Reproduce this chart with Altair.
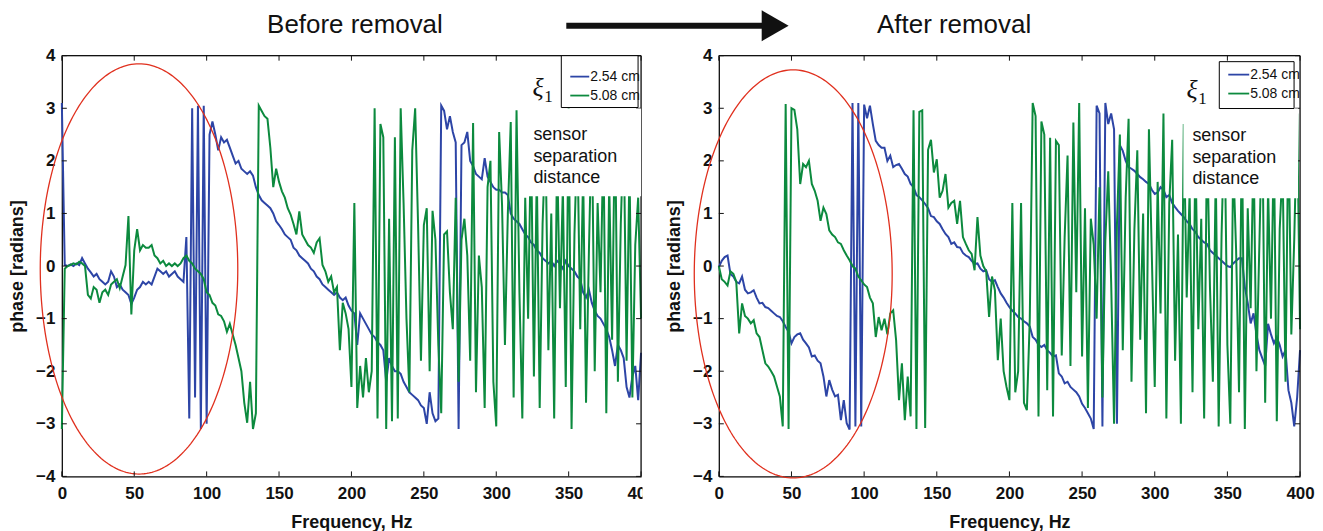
import altair as alt
import numpy as np
import pandas as pd

# ---------------- data ----------------
FREQ = list(range(0, 401, 2))  # Hz, 2 Hz sampling

BEFORE_254 = [
    3.1, 0.02, 0.0, 0.03, 0.0, 0.05, 0.02, 0.15, 0.05, -0.05,
    -0.12, -0.2, -0.15, -0.25, -0.3, -0.35, -0.3, -0.1, -0.2, -0.4,
    -0.35, -0.45, -0.5, -0.55, -0.72, -0.6, -0.45, -0.4, -0.3, -0.35,
    -0.3, -0.35, -0.2, -0.05, -0.1, -0.15, -0.1, -0.2, -0.15, -0.1,
    -0.2, -0.25, -0.3, 0.55, -2.9, 3.0, -2.5, 3.05, -3.1, 3.05,
    -3.0, 2.5, 2.75, 2.5, 2.2, 2.45, 2.35, 2.4, 2.25, 2.1,
    1.95, 2.0, 1.85, 1.8, 1.75, 1.8, 1.72, 1.5, 1.35, 1.25,
    1.2, 1.15, 1.1, 1.0, 0.85, 0.78, 0.7, 0.6, 0.55, 0.5,
    0.35, 0.3, 0.2, 0.15, 0.1, 0.05, -0.05, -0.1, -0.2, -0.25,
    -0.35, -0.4, -0.45, -0.5, -0.55, -0.5, -0.6, -0.65, -0.6, -0.75,
    -0.85, -0.9, -1.5, -0.9, -1.0, -1.1, -1.2, -1.3, -1.35, -1.45,
    -1.5, -1.6, -2.2, -1.75, -1.9, -2.0, -2.0, -2.05, -2.2, -2.3,
    -2.4, -2.45, -2.5, -2.55, -2.65, -2.7, -3.0, -2.4, -2.8, -2.95,
    -2.9, 3.05, 2.95, 2.6, 2.85, 2.55, 2.35, -3.1, 2.3, 2.35,
    2.55, 2.0, 1.9, 1.75, 1.7, 1.65, 2.05, 1.7, 1.6, 1.5,
    1.45, 1.45, 1.4, 1.4, 1.35, 1.0, 0.9, 0.85, 0.8, 0.7,
    0.6, 0.55, 0.45, 0.4, 0.3, 0.25, 0.15, 0.1, 0.05, 0.1,
    0.0, 0.1, 0.05, -0.05, 0.1, 0.0, -0.05, -0.1, -0.2, -0.25,
    -0.5, -0.6, -0.45, -0.7, -0.85, -0.95, -1.0, -1.1, -1.2, -1.35,
    -1.6, -1.9, -1.5, -1.6, -1.75, -2.3, -2.5, -2.1, -1.9, -2.55,
    -1.65,
]

BEFORE_508 = [
    -3.1, -0.05, 0.0, 0.02, 0.05, 0.03, 0.08, 0.05, 0.0, -0.55,
    -0.62, -0.4, -0.45, -0.7, -0.5, -0.45, -0.55, -0.35, -0.3, -0.25,
    -0.42, -0.2, 0.02, 0.95, -0.92, 0.3, 0.7, 0.3, 0.4, 0.35,
    0.35, 0.4, 0.2, 0.15, 0.05, 0.1, 0.0, 0.05, 0.0, 0.05,
    0.0, 0.05, 0.15, 0.2, 0.1, 0.05, -0.05, -0.1, -0.15, -0.25,
    -0.5, -0.55, -0.7, -0.75, -0.92, -0.95, -1.05, -1.25, -1.1, -1.3,
    -1.5, -1.75, -2.0, -2.6, -2.98, -2.2, -3.1, -2.8, 3.05, 2.95,
    2.85, 2.8, 2.25, 1.5, 1.85, 1.6, 1.42, 1.3, 1.1, 0.98,
    0.8, 0.6, 1.04, 0.6, 0.5, 0.4, 0.35, 0.25, 0.45, 0.53,
    0.02, -0.1, -0.3, -0.2, -0.5, -0.4, -1.6, -0.7, -0.9, -1.2,
    -2.3, 1.2, -2.7, -1.9, -2.5, -1.75, -2.4, -2.0, 3.0, -2.9,
    2.7, 2.45, -3.1, 0.9, -2.95, 2.45, -2.9, 3.0, 1.2, -1.0,
    -2.4, 2.2, 3.0, 0.8, -1.8, 0.78, 1.1, -2.0, 1.05, 0.5,
    -1.5, -2.8, 0.6, 0.66, -0.5, -1.2, 1.3, -2.2, 0.5, 0.9,
    0.2, -1.8, 2.72, -2.4, 0.2, -0.4, -2.7, 1.5, 2.0, -2.2,
    -3.05, 2.55, 1.16, -1.5, 1.0, 2.74, -2.5, 2.96, -0.5, -2.9,
    1.3, -1.0, 2.5, -2.1, 1.8, -2.7, 0.8, 2.4, -1.6, 1.0,
    -2.9, 2.2, -0.8, 1.5, -2.3, 3.0, -3.1, 0.6, 2.5, -1.2,
    1.8, -2.6, 0.3, 2.8, -2.0, 1.2, -0.5, 2.4, -2.8, 1.6,
    -1.4, 2.9, -2.2, 0.8, 2.6, -1.8, 1.9, -2.5, 0.4, 1.3,
    -1.0,
]

AFTER_254 = [
    -0.02, 0.1, 0.17, 0.2, -0.15, -0.2, -0.3, -0.33, -0.2, -0.45,
    -0.52, -0.5, -0.46, -0.6, -0.71, -0.7, -0.78, -0.8, -0.85, -0.9,
    -0.95, -0.97, -1.05, -1.16, -1.25, -1.47, -1.35, -1.3, -1.28, -1.4,
    -1.47, -1.55, -1.72, -1.7, -1.8, -1.85, -2.1, -2.48, -2.17, -2.35,
    -2.48, -2.45, -2.93, -2.55, -2.99, -3.11, 3.1, -3.05, 3.1, -3.05,
    3.07, 2.81, 3.05, 2.7, 2.38, 2.3, 2.25, 2.25, 2.0, 2.1,
    1.88, 1.92, 1.94, 1.85, 1.75, 1.7, 1.56, 1.5, 1.35, 1.31,
    1.25, 1.18, 1.1, 0.95, 0.93, 0.85, 0.8, 0.7, 0.61, 0.55,
    0.42, 0.45, 0.36, 0.35, 0.25, 0.2, 0.17, 0.1, 0.04, 0.05,
    -0.05, -0.1, -0.08, -0.25, -0.3, -0.27, -0.4, -0.52, -0.6, -0.7,
    -0.78, -0.85, -0.9, -0.97, -1.0, -1.05, -1.09, -1.15, -1.35, -1.4,
    -1.5, -1.54, -1.5, -1.6, -1.65, -1.72, -1.7, -2.04, -2.1, -2.23,
    -2.2, -2.3, -2.35, -2.4, -2.48, -2.62, -2.7, -2.8, -2.9, -3.1,
    3.05, 2.9, -3.05, 3.1, 2.7, 2.9, 2.6, -3.0, 2.3, 2.19,
    2.0, 1.88, 1.85, 1.81, 1.75, 1.69, 1.65, 1.6, 1.56, 1.45,
    1.37, 1.4, 1.5, 1.45, 1.31, 1.35, 1.2, 1.12, 1.05, 0.99,
    0.93, 0.85, 0.8, 0.7, 0.65, 0.55, 0.5, 0.45, 0.42, 0.3,
    0.25, 0.2, 0.15, 0.1, 0.05, 0.0, -0.02, 0.05, 0.1, 0.15,
    0.15, -0.4, -0.7, -1.09, -0.9, -1.3, -1.6, -1.75, -1.9, -1.1,
    -1.3, -1.47, -1.35, -1.5, -1.72, -1.6, -2.36, -2.6, -3.05, -2.5,
    -1.6,
]

AFTER_508 = [
    0.0, -0.25, -0.3, -0.37, -0.1, -0.15, -0.3, -1.28, -0.71, -0.95,
    -1.0, -1.09, -1.03, -1.28, -1.35, -1.6, -1.85, -1.91, -2.0, -2.1,
    -2.29, -2.48, -3.05, 3.08, -3.1, 3.0, 2.97, 2.6, 1.56, 1.94,
    1.88, 2.0, 1.56, 1.43, 1.24, 0.86, 1.11, 0.99, 0.68, 0.6,
    0.55, 0.45, 0.42, 0.3, 0.2, 0.11, 0.0, -0.05, -0.2, -0.27,
    -0.35, -0.4, -0.6, -0.71, -1.35, -0.97, -1.22, -1.0, -1.3, -0.9,
    -0.84, -1.41, -2.55, -1.85, -2.93, -2.1, -2.86, 2.96, -3.1, 2.93,
    2.96, -3.08, 2.21, 2.4, 1.78, 2.03, 1.3, 1.43, 1.75, 1.11,
    1.2, 1.24, 0.8, 1.24, 0.55, 0.42, 0.3, 0.23, -0.08, 0.93,
    0.2, 0.0, -0.1, -0.97, -0.2, -0.46, -1.79, -1.0, -2.0, -2.3,
    -2.55, 1.2, -2.4, -2.0, 1.2, -2.6, -2.74, -1.0, 3.1, 2.85,
    -2.86, 2.75, 2.5, -2.36, 2.44, -2.86, 2.38, 2.3, -1.7, 0.55,
    2.1, -1.9, 2.73, -0.5, 3.1, -1.72, 1.1, -2.7, 0.9, 0.4,
    -1.0, 1.5, -2.5, 0.5, 1.8, -0.3, -3.0, 0.8, 2.5, -1.6,
    1.3, 2.8, -2.2, 0.7, 2.2, -1.4, 1.0, -2.8, 2.6, 0.2,
    -2.3, 1.6, -0.9, 2.9, -2.9, 1.2, 2.4, -1.8, 0.6, -3.0,
    2.7, -0.6, 1.4, -2.4, 2.2, -1.2, 0.9, -2.9, 2.5, -0.4,
    -2.2, 1.8, -3.05, 0.6, 2.8, -1.5, -3.0, 2.0, 0.3, -2.4,
    2.6, -3.1, 1.1, -0.8, 2.3, -2.0, 0.4, 2.9, -2.6, 1.5,
    -1.0, 2.4, -2.95, 0.7, 1.9, -2.2, 2.8, -1.3, 0.5, 2.9,
    -1.2,
]

X_TICKS = [0, 50, 100, 150, 200, 250, 300, 350, 400]
Y_TICKS = [-4, -3, -2, -1, 0, 1, 2, 3, 4]
SERIES = ["2.54 cm", "5.08 cm"]
PANEL_TITLES = ["Before removal", "After removal"]
NOTE_LINES = ["sensor", "separation", "distance"]
X_TITLE = "Frequency, Hz"
Y_TITLE = "phase [radians]"

# ---------------- styling ----------------
COLORS = ["#2d45a6", "#0c8a3e"]
RED = "#e0301e"
INK = "#111111"
FONT = "Liberation Sans"
SERIF = "Liberation Serif"
H = 422

ONE = pd.DataFrame({"k": [0]})
XS = alt.Scale(domain=[0, 400], nice=False, zero=False)
YS = alt.Scale(domain=[-4, 4], nice=False, zero=False)


def txt(text, x, y, size, font=FONT, align="left", color=INK):
    return alt.Chart(ONE).mark_text(
        text=text, font=font, fontSize=size, align=align, baseline="middle", color=color,
    ).encode(x=alt.value(x), y=alt.value(y))


def panel(blue, green, W, title, title_x, ell, box, leg, note, xi, left):
    df = pd.DataFrame({"f": FREQ, "b": blue, "g": green})

    xaxis = alt.Axis(
        values=X_TICKS, ticks=False, grid=False, title=X_TITLE,
        labelFont=FONT, labelFontSize=17, labelFontWeight="bold", labelColor=INK,
        labelPadding=9, labelFlush=False, labelOverlap=False,
        titleFont=FONT, titleFontSize=18, titleFontWeight="bold", titleColor=INK,
        titlePadding=12, domainColor=INK, domainWidth=1.3,
    )
    yaxis = alt.Axis(
        values=Y_TICKS, ticks=False, grid=False, title=Y_TITLE,
        labelFont=FONT, labelFontSize=17, labelFontWeight="bold", labelColor=INK,
        labelPadding=7, labelFlush=False, labelOverlap=False,
        titleFont=FONT, titleFontSize=18, titleFontWeight="bold", titleColor=INK,
        titlePadding=9, domainColor=INK, domainWidth=1.3,
    )

    def X(field):
        return alt.X(field, scale=XS, axis=xaxis)

    def Y(field):
        return alt.Y(field, scale=YS, axis=yaxis)

    layers = []
    layers.append(alt.Chart(df).mark_line(color=COLORS[0], strokeWidth=2).encode(
        x=X("f:Q"), y=Y("b:Q")))
    layers.append(alt.Chart(df).mark_line(color=COLORS[1], strokeWidth=2).encode(
        x=X("f:Q"), y=Y("g:Q")))

    # red ellipse annotation
    cx, rx, cy, ry = ell
    t = np.linspace(0, 2 * np.pi, 241)
    edf = pd.DataFrame({"t": t, "ex": cx + rx * np.cos(t), "ey": cy + ry * np.sin(t)})
    layers.append(alt.Chart(edf).mark_line(color=RED, strokeWidth=1.3).encode(
        x=X("ex:Q"), y=Y("ey:Q"), order="t:Q"))

    # inward tick marks and box frame
    xt = pd.DataFrame({"t": X_TICKS})
    yt = pd.DataFrame({"t": Y_TICKS})
    layers.append(alt.Chart(xt).mark_rule(color=INK, strokeWidth=1).encode(
        x=X("t:Q"), y=alt.value(H), y2=alt.value(H - 5)))
    layers.append(alt.Chart(xt).mark_rule(color=INK, strokeWidth=1).encode(
        x=X("t:Q"), y=alt.value(0), y2=alt.value(5)))
    layers.append(alt.Chart(yt).mark_rule(color=INK, strokeWidth=1).encode(
        y=Y("t:Q"), x=alt.value(0), x2=alt.value(5)))
    layers.append(alt.Chart(yt).mark_rule(color=INK, strokeWidth=1).encode(
        y=Y("t:Q"), x=alt.value(W - 5), x2=alt.value(W)))
    layers.append(alt.Chart(ONE).mark_rule(color=INK, strokeWidth=1.3).encode(
        x=alt.value(0), x2=alt.value(W), y=alt.value(0)))
    layers.append(alt.Chart(ONE).mark_rule(color=INK, strokeWidth=1.3).encode(
        x=alt.value(W), y=alt.value(0), y2=alt.value(H)))

    # white box behind the note
    nx0, nx1, ny0, ny1, nd = note
    layers.append(alt.Chart(ONE).mark_rect(color="white").encode(
        x=alt.value(nx0), x2=alt.value(nx1), y=alt.value(ny0), y2=alt.value(ny1)))
    for i, line in enumerate(NOTE_LINES):
        layers.append(txt(line, nx0 + 9, ny0 + nd + 21.5 * i, 18))

    # legend
    bx0, bx1, by0, by1 = box
    layers.append(alt.Chart(ONE).mark_rect(color="white", stroke="black", strokeWidth=1).encode(
        x=alt.value(bx0), x2=alt.value(bx1), y=alt.value(by0), y2=alt.value(by1)))
    lx0, lx1, ly = leg
    for i, name in enumerate(SERIES):
        yy = ly + 19 * i
        layers.append(alt.Chart(ONE).mark_rule(color=COLORS[i], strokeWidth=1.8).encode(
            x=alt.value(lx0), x2=alt.value(lx1), y=alt.value(yy)))
        layers.append(txt(name, lx1 + 1, yy, 14))

    # xi_1 symbol
    xx, xy = xi
    layers.append(alt.Chart(ONE).mark_text(text="ξ", font=SERIF, fontSize=26, fontStyle="italic",
                                           align="left", baseline="alphabetic", color=INK).encode(
        x=alt.value(xx), y=alt.value(xy)))
    layers.append(alt.Chart(ONE).mark_text(text="1", font=SERIF, fontSize=17,
                                           align="left", baseline="alphabetic", color=INK).encode(
        x=alt.value(xx + 12), y=alt.value(xy + 6)))

    # panel heading
    layers.append(txt(title, title_x, -31, 26, align="center"))

    if left:
        # the source figure is cropped just right of the first panel
        layers.append(alt.Chart(ONE).mark_rect(color="white").encode(
            x=alt.value(W + 1.5), x2=alt.value(W + 40), y=alt.value(-8), y2=alt.value(H + 70)))
        layers.append(alt.Chart(ONE).mark_rule(color=INK, strokeWidth=6).encode(
            x=alt.value(506), x2=alt.value(705), y=alt.value(-30)))
        layers.append(alt.Chart(ONE).mark_point(
            shape="M -1 -1.15 L 1 0 L -1 1.15 Z", size=729, filled=True,
            color=INK, opacity=1).encode(x=alt.value(715.5), y=alt.value(-30)))

    return alt.layer(*layers).properties(width=W, height=H)


left = panel(BEFORE_254, BEFORE_508, 581, PANEL_TITLES[0], 294,
             (53.3, 68.2, -0.055, 3.9),
             (501, 578, 0, 52), (510, 529, 21),
             (464, 581, 53, 141, 27), (472, 40), True)
right = panel(AFTER_254, AFTER_508, 583, PANEL_TITLES[1], 236,
              (51.2, 68.1, -0.15, 3.88),
              (502, 577, 6, 53), (511, 532, 19),
              (466, 581, 53, 143, 28), (469, 42), False)

chart = alt.hconcat(left, right, spacing=78, bounds="flush").properties(
    padding={"left": 0, "top": 0, "right": 0, "bottom": 0}
).configure_view(stroke=None).configure(font=FONT)

chart.save("out.html", embed_options={"renderer": "svg", "actions": False})
